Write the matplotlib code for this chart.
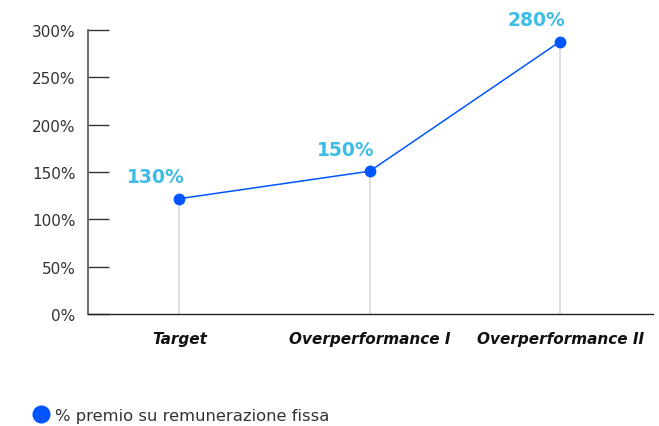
import matplotlib
matplotlib.use("Agg")
import matplotlib.pyplot as plt
from matplotlib.lines import Line2D

# dati
categorie = ["Target", "Overperformance I", "Overperformance II"]
valori = [122, 151, 288]          # posizione dei punti
etichette = ["130%", "150%", "280%"]  # testo mostrato sopra i punti
tick_y = [0, 50, 100, 150, 200, 250, 300]
legenda = "% premio su remunerazione fissa"

blu = "#0055ff"
azzurro = "#3dbce6"

plt.rcParams['font.family'] = ['DejaVu Sans']

fig = plt.figure(figsize=(6.59, 4.27), dpi=100)
ax = fig.add_axes([0.1335, 0.262, 0.858, 0.665])

xs = list(range(len(categorie)))

# linee verticali grigie
for x, v in zip(xs, valori):
    ax.plot([x, x], [0, v], color="#d9d9d9", lw=1.2, zorder=1)

ax.plot(xs, valori, color=blu, lw=1.1, marker="o", ms=7.5, zorder=3, clip_on=False)

for x, v, t in zip(xs, valori, etichette):
    ax.annotate(t, (x, v), xytext=(-17, 9), textcoords="offset points",
                ha="center", va="bottom", fontsize=13.5, fontweight="bold",
                color=azzurro, annotation_clip=False)

ax.set_xlim(-0.48, 2.49)
ax.set_ylim(0, 300)
ax.set_yticks(tick_y)
ax.set_yticklabels([f"{t}%" for t in tick_y])
ax.set_xticks(xs)
ax.set_xticklabels(categorie, fontsize=11, fontweight="bold", style="oblique")

ax.spines["top"].set_visible(False)
ax.spines["right"].set_visible(False)
ax.spines["left"].set_color("#555555")
ax.spines["left"].set_linewidth(1.2)
ax.spines["bottom"].set_color("#222222")
ax.spines["bottom"].set_linewidth(1.0)

ax.tick_params(axis="y", direction="in", length=15, width=1, color="#333333",
               labelsize=11, labelcolor="#333333", pad=9)
ax.tick_params(axis="x", length=0, pad=12, labelcolor="#111111")

handle = Line2D([], [], color=blu, marker="o", ls="none", ms=12)
fig.legend([handle], [legenda], loc="center left", bbox_to_anchor=(0.028, 0.025),
           frameon=False, fontsize=11.8, handletextpad=0.35, handlelength=1.0,
           labelcolor="#333333")

fig.savefig("out.png", dpi=100)
